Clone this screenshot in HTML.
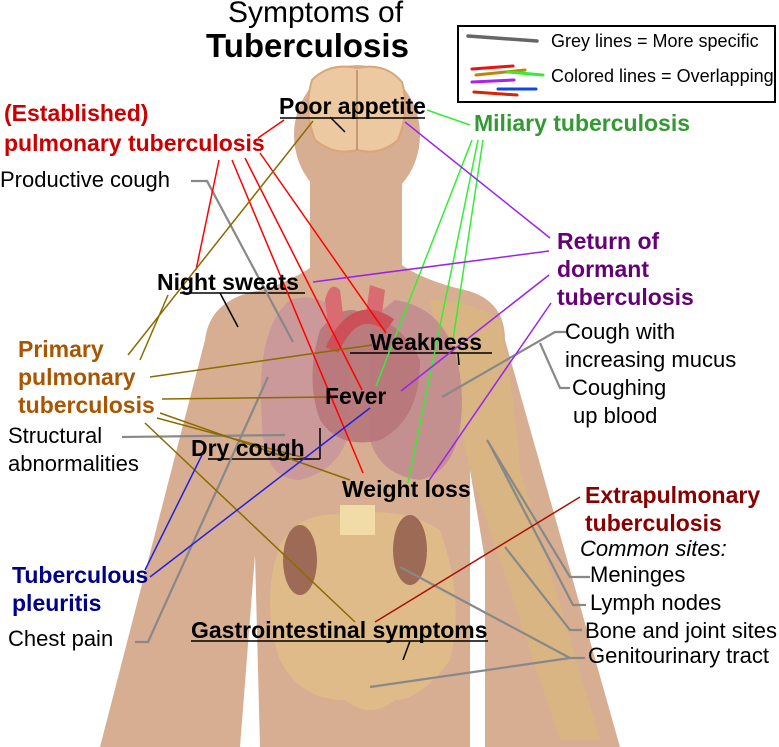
<!DOCTYPE html>
<html><head><meta charset="utf-8"><style>
html,body{margin:0;padding:0;background:#fff;}
svg{display:block;}
text{font-family:"Liberation Sans",sans-serif;}
</style></head><body>
<svg width="779" height="747" viewBox="0 0 779 747" xmlns="http://www.w3.org/2000/svg">
<!-- body silhouette -->
<g fill="#d8ae92">
<ellipse cx="357" cy="135" rx="63" ry="70"/>
<rect x="310" y="180" width="92" height="100"/>
<path d="M262,290 Q300,278 320,260 L395,260 Q420,280 465,290 Q505,300 505,340 L620,747 L485,747 L485,560 L470,470 L470,747 L260,747 L255,555 L240,747 L100,747 L205,340 Q210,298 262,290 Z"/>
</g>
<!-- brain -->
<path d="M312,80 Q330,62 357,68 Q385,62 402,82 Q410,110 398,140 Q380,156 357,150 Q335,156 315,140 Q303,110 312,80 Z" fill="#ecc9a0" stroke="#d9a57a" stroke-width="2"/>
<line x1="357" y1="70" x2="357" y2="150" stroke="#b88860" stroke-width="1.5"/>
<!-- arm muscles -->
<path d="M430,300 Q470,300 500,320 Q515,400 520,470 L600,740 L560,740 L500,560 L470,470 L455,400 Z" fill="#d9b77f" opacity="0.8"/>
<!-- lungs -->
<path d="M290,300 Q255,330 262,420 Q262,480 300,480 Q340,470 350,430 L350,320 Q320,290 290,300 Z" fill="#c9959a" opacity="0.85"/>
<path d="M395,300 Q460,310 462,400 Q462,470 420,480 Q380,475 370,440 L370,320 Z" fill="#c18a8e" opacity="0.85"/>
<!-- heart -->
<path d="M320,330 Q345,300 365,315 Q400,320 420,360 Q420,420 380,440 Q340,450 320,420 Q305,380 320,330 Z" fill="#b7767a" opacity="0.9"/>
<path d="M325,300 Q330,280 340,290 L345,330 L330,340 Z M370,285 L385,290 L380,330 L365,320 Z" fill="#d86c70"/>
<path d="M332,350 Q355,300 390,325" stroke="#cc5058" stroke-width="14" fill="none"/>
<!-- abdomen organs -->
<path d="M280,545 Q300,510 345,515 Q400,505 440,530 Q465,600 450,660 Q420,700 395,700 Q370,720 345,700 Q300,700 280,660 Q260,600 280,545 Z" fill="#e0bc8a" opacity="0.9"/>
<ellipse cx="300" cy="560" rx="17" ry="35" fill="#9c6a55"/>
<ellipse cx="410" cy="550" rx="17" ry="35" fill="#9c6a55"/>
<rect x="340" y="505" width="35" height="30" fill="#f1dca8"/>
<!-- pointer ticks -->
<g stroke="#000" stroke-width="1.5">
<line x1="330" y1="117" x2="345" y2="132"/>
<line x1="220" y1="293" x2="238" y2="327"/>
<line x1="458" y1="353" x2="459" y2="365"/>
<line x1="320" y1="428" x2="320" y2="459"/>
<line x1="410" y1="641" x2="403" y2="660"/>
</g>
<!-- underlines -->
<g stroke="#000" stroke-width="1.5">
<line x1="280" y1="118" x2="425" y2="118"/>
<line x1="180" y1="293" x2="305" y2="293"/>
<line x1="350" y1="353" x2="492" y2="353"/>
<line x1="208" y1="459" x2="320" y2="459"/>
<line x1="191" y1="641" x2="488" y2="641"/>
</g>
<!-- grey lines -->
<g stroke="#888" stroke-width="2.2" fill="none">
<polyline points="191,181 207,181 293,342"/>
<line x1="122" y1="437" x2="285" y2="435"/>
<polyline points="135,642 148,642 268,377"/>
<polyline points="567,332 555,332 442,397"/>
<polyline points="540,343 560,388 570,388"/>
<polyline points="590,577 570,577 487,440"/>
<polyline points="586,605 573,605 490,445"/>
<polyline points="582,630 570,630 505,547"/>
<polyline points="585,658 570,658 400,567"/>
<line x1="570" y1="658" x2="370" y2="687"/>
</g>
<!-- red -->
<g stroke="#ff0000" stroke-width="1.5">
<line x1="284" y1="120" x2="258" y2="138"/>
<line x1="219" y1="160" x2="196" y2="270"/>
<line x1="232" y1="160" x2="363" y2="473"/>
<line x1="245" y1="158" x2="362" y2="390"/>
<line x1="260" y1="153" x2="386" y2="333"/>
</g>
<!-- olive -->
<g stroke="#8b6a00" stroke-width="1.5">
<line x1="313" y1="121" x2="128" y2="355"/>
<line x1="168" y1="295" x2="140" y2="360"/>
<line x1="150" y1="377" x2="372" y2="345"/>
<line x1="162" y1="399" x2="330" y2="397"/>
<line x1="160" y1="413" x2="350" y2="480"/>
<line x1="157" y1="418" x2="305" y2="458"/>
<line x1="145" y1="423" x2="355" y2="622"/>
</g>
<!-- green -->
<g stroke="#33ee33" stroke-width="1.5">
<line x1="427" y1="110" x2="470" y2="125"/>
<line x1="472" y1="140" x2="376" y2="386"/>
<line x1="478" y1="140" x2="408" y2="483"/>
<line x1="483" y1="140" x2="453" y2="340"/>
</g>
<!-- purple -->
<g stroke="#9922ee" stroke-width="1.5">
<line x1="405" y1="122" x2="550" y2="238"/>
<line x1="313" y1="282" x2="549" y2="251"/>
<line x1="549" y1="275" x2="401" y2="391"/>
<line x1="551" y1="303" x2="428" y2="482"/>
</g>
<!-- blue -->
<g stroke="#2222dd" stroke-width="1.5">
<line x1="145" y1="570" x2="202" y2="455"/>
<line x1="150" y1="577" x2="370" y2="408"/>
</g>
<line x1="375" y1="622" x2="580" y2="497" stroke="#aa1100" stroke-width="1.5"/>
<!-- legend -->
<rect x="458" y="26" width="317" height="76" fill="#fff" stroke="#000" stroke-width="2"/>
<line x1="468" y1="36" x2="537" y2="41" stroke="#666" stroke-width="3.5" stroke-linecap="round"/>
<g stroke-width="3" stroke-linecap="round">
<line x1="472" y1="69" x2="513" y2="66" stroke="#ee1111"/>
<line x1="476" y1="75" x2="525" y2="70" stroke="#bb8800"/>
<line x1="508" y1="72" x2="543" y2="75" stroke="#33ee33"/>
<line x1="472" y1="82" x2="514" y2="80" stroke="#aa22ee"/>
<line x1="498" y1="89" x2="536" y2="89" stroke="#1144ee"/>
<line x1="474" y1="92" x2="517" y2="95" stroke="#dd2200"/>
</g>
<text x="551" y="47" font-size="18">Grey lines = More specific</text>
<text x="551" y="82" font-size="18">Colored lines = Overlapping</text>
<!-- titles -->
<text x="228" y="22" font-size="30">Symptoms of</text>
<text x="206" y="57" font-size="33" font-weight="bold">Tuberculosis</text>
<!-- labels -->
<g font-weight="bold" font-size="23">
<text x="4" y="121" fill="#cc0000">(Established)</text>
<text x="4" y="151" fill="#cc0000">pulmonary tuberculosis</text>
<text x="474" y="131" fill="#339933">Miliary tuberculosis</text>
<text x="557" y="249" fill="#660077">Return of</text>
<text x="557" y="277" fill="#660077">dormant</text>
<text x="557" y="305" fill="#660077">tuberculosis</text>
<text x="18" y="357" fill="#aa5500">Primary</text>
<text x="18" y="385" fill="#aa5500">pulmonary</text>
<text x="18" y="413" fill="#aa5500">tuberculosis</text>
<text x="585" y="503" fill="#880000">Extrapulmonary</text>
<text x="585" y="531" fill="#880000">tuberculosis</text>
<text x="12" y="583" fill="#000088">Tuberculous</text>
<text x="12" y="611" fill="#000088">pleuritis</text>
<text x="279" y="114" fill="#000">Poor appetite</text>
<text x="157" y="290" fill="#000">Night sweats</text>
<text x="370" y="350" fill="#000">Weakness</text>
<text x="325" y="404" fill="#000">Fever</text>
<text x="191" y="456" fill="#000">Dry cough</text>
<text x="342" y="497" fill="#000">Weight loss</text>
<text x="191" y="638" fill="#000">Gastrointestinal symptoms</text>
</g>
<g font-size="22">
<text x="0" y="187">Productive cough</text>
<text x="565" y="339">Cough with</text>
<text x="565" y="367">increasing mucus</text>
<text x="572" y="395">Coughing</text>
<text x="573" y="423">up blood</text>
<text x="8" y="443">Structural</text>
<text x="8" y="471">abnormalities</text>
<text x="580" y="556" font-style="italic">Common sites:</text>
<text x="590" y="582">Meninges</text>
<text x="590" y="610">Lymph nodes</text>
<text x="585" y="638">Bone and joint sites</text>
<text x="588" y="663">Genitourinary tract</text>
<text x="8" y="646">Chest pain</text>
</g>
</svg>
</body></html>
